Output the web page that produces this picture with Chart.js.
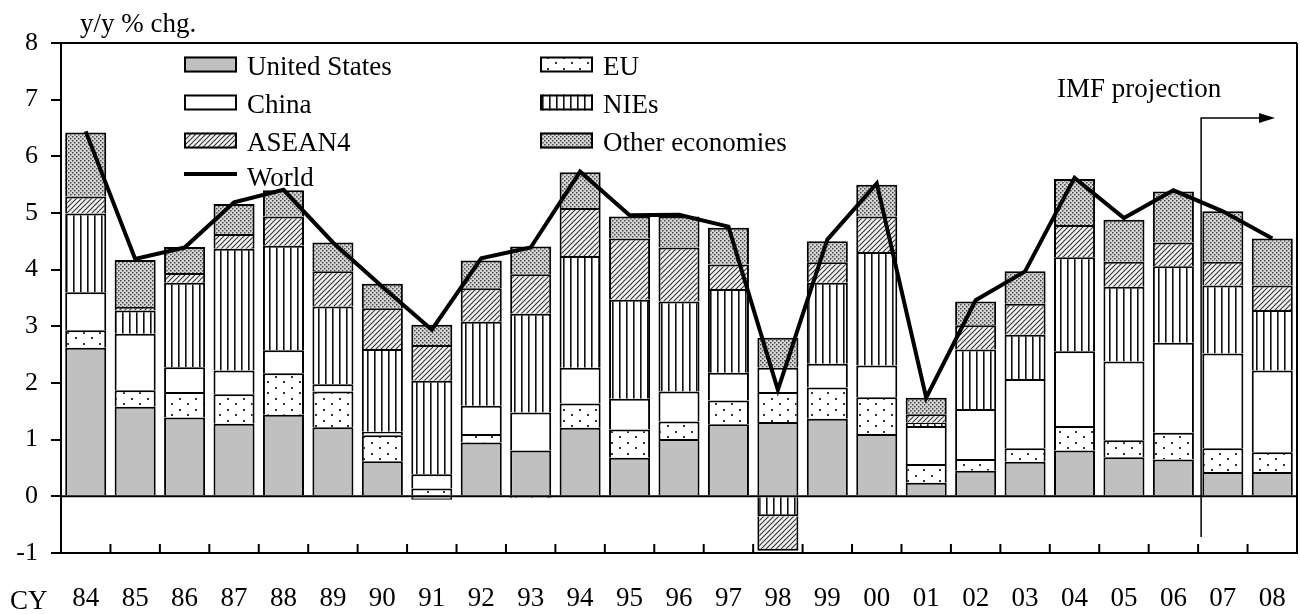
<!DOCTYPE html>
<html lang="en">
  <head>
    <meta charset="UTF-8" />
    <title>World growth contributions</title>
    <script src="https://cdn.jsdelivr.net/npm/chart.js@4.4.1/dist/chart.umd.min.js"></script>
    <style>
      body { margin: 0; background: #fff; }
    </style>
  </head>
  <body>
    <canvas id="myChart" width="1300" height="614"></canvas>
    <script>
      // years (CY)
      const years = ["84", "85", "86", "87", "88", "89", "90", "91", "92", "93", "94", "95", "96",
        "97", "98", "99", "00", "01", "02", "03", "04", "05", "06", "07", "08"];

      // contributions, % points
      const us = [2.62, 1.58, 1.39, 1.28, 1.44, 1.22, 0.62, -0.06, 0.95, 0.81, 1.21, 0.68, 1.01,
        1.27, 1.31, 1.37, 1.10, 0.24, 0.45, 0.61, 0.81, 0.69, 0.65, 0.43, 0.43];
      const eu = [0.31, 0.29, 0.45, 0.52, 0.73, 0.63, 0.46, 0.14, 0.15, -0.03, 0.43, 0.50, 0.31,
        0.42, 0.53, 0.55, 0.65, 0.33, 0.21, 0.24, 0.43, 0.30, 0.47, 0.42, 0.35];
      const china = [0.67, 1.00, 0.44, 0.42, 0.41, 0.13, 0.06, 0.25, 0.50, 0.67, 0.63, 0.54, 0.53,
        0.49, 0.43, 0.42, 0.56, 0.67, 0.88, 1.22, 1.32, 1.39, 1.59, 1.67, 1.44];
      const nies = [1.39, 0.41, 1.49, 2.15, 1.84, 1.37, 1.46, 1.65, 1.48, 1.74, 1.97, 1.75, 1.59,
        1.48, -0.35, 1.43, 2.00, 0.06, 1.05, 0.78, 1.66, 1.32, 1.35, 1.20, 1.07];
      const asean4 = [0.30, 0.06, 0.17, 0.26, 0.52, 0.62, 0.72, 0.63, 0.59, 0.70, 0.85, 1.08, 0.95,
        0.43, -0.61, 0.36, 0.63, 0.15, 0.43, 0.55, 0.57, 0.44, 0.42, 0.42, 0.43];
      const others = [1.13, 0.83, 0.46, 0.53, 0.46, 0.51, 0.43, 0.36, 0.49, 0.49, 0.63, 0.39, 0.55,
        0.65, 0.53, 0.37, 0.56, 0.29, 0.42, 0.57, 0.81, 0.74, 0.90, 0.89, 0.83];
      const world = [6.44, 4.19, 4.39, 5.19, 5.41, 4.48, 3.70, 2.94, 4.20, 4.39, 5.73, 4.96, 4.97,
        4.76, 1.88, 4.53, 5.52, 1.74, 3.46, 3.97, 5.62, 4.91, 5.40, 5.03, 4.55];

      const yTicks = [-1, 0, 1, 2, 3, 4, 5, 6, 7, 8];
      const FONT = "Liberation Serif";
      Chart.defaults.font.family = FONT;
      Chart.defaults.color = "#000";

      const ctx = document.getElementById("myChart").getContext("2d");

      // small tiles for the fill patterns
      function f_pattern(w, h, bg, draw) {
        const c = document.createElement("canvas");
        c.width = w;
        c.height = h;
        const g = c.getContext("2d");
        g.fillStyle = bg;
        g.fillRect(0, 0, w, h);
        draw(g);
        return ctx.createPattern(c, "repeat");
      }

      const pUS = "#c0c0c0";
      const pEU = f_pattern(16, 11, "#fff", (g) => {
        g.fillStyle = "#333";
        g.fillRect(3, 2, 2, 2);
        g.fillRect(11, 7, 2, 2);
      });
      const pChina = "#fff";
      const pNIEs = f_pattern(7, 4, "#fff", (g) => {
        g.fillStyle = "#111";
        g.fillRect(3, 0, 1.6, 4);
      });
      const pASEAN = f_pattern(5, 5, "#f4f4f4", (g) => {
        g.strokeStyle = "#333";
        g.lineWidth = 1.1;
        g.beginPath();
        g.moveTo(-1, 6); g.lineTo(6, -1);
        g.moveTo(-1, 1); g.lineTo(1, -1);
        g.moveTo(4, 6); g.lineTo(6, 4);
        g.stroke();
      });
      const pOther = f_pattern(4, 4, "#d4d4d4", (g) => {
        g.fillStyle = "#4a4a4a";
        g.fillRect(0, 0, 1.5, 1.5);
        g.fillRect(2, 2, 1.5, 1.5);
      });

      function f_bar(label, data, fill) {
        return {
          type: "bar",
          label: label,
          data: data,
          backgroundColor: fill,
          borderColor: "#000",
          borderWidth: 2,
          order: 1,
        };
      }

      const legendRows = [
        { label: "United States", fill: pUS, col: 0, row: 0 },
        { label: "EU", fill: pEU, col: 1, row: 0 },
        { label: "China", fill: pChina, col: 0, row: 1 },
        { label: "NIEs", fill: pNIEs, col: 1, row: 1 },
        { label: "ASEAN4", fill: pASEAN, col: 0, row: 2 },
        { label: "Other economies", fill: pOther, col: 1, row: 2 },
      ];

      // frame, legend, notes
      const extras = {
        id: "extras",
        afterDatasetsDraw(chart) {
          const c = chart.ctx;
          const a = chart.chartArea;
          const x = chart.scales.x;
          const y = chart.scales.y;
          c.save();
          c.strokeStyle = "#000";
          c.lineWidth = 2;
          const y0 = y.getPixelForValue(0);
          c.beginPath();
          c.moveTo(a.left, y0); c.lineTo(a.right, y0);
          c.moveTo(a.left - 10, a.top); c.lineTo(a.right, a.top);
          c.moveTo(a.right, a.top); c.lineTo(a.right, a.bottom + 1);
          for (let i = 0; i < years.length - 1; i++) {
            const px = (x.getPixelForValue(i) + x.getPixelForValue(i + 1)) / 2;
            c.moveTo(px, a.bottom); c.lineTo(px, a.bottom - 9);
          }
          c.stroke();
          c.restore();
        },
        afterDraw(chart) {
          const c = chart.ctx;
          const x = chart.scales.x;
          c.save();
          c.fillStyle = "#000";
          c.font = "27px '" + FONT + "'";
          c.textBaseline = "alphabetic";
          c.fillText("y/y % chg.", 80, 32);
          c.fillText("CY", 10, 609);

          // legend
          const colX = [184, 540];
          const rowY = [64.5, 102.5, 140.5];
          legendRows.forEach((r) => {
            const bx = colX[r.col];
            const by = rowY[r.row] - 8;
            c.fillStyle = r.fill;
            c.fillRect(bx, by, 53, 16);
            c.strokeStyle = "#000";
            c.lineWidth = 2;
            c.strokeRect(bx + 1, by + 1, 51, 14);
            c.fillStyle = "#000";
            c.fillText(r.label, bx + 63, rowY[r.row] + 10.5);
          });
          c.lineWidth = 4;
          c.beginPath();
          c.moveTo(184, 174); c.lineTo(237, 174);
          c.stroke();
          c.fillText("World", 247, 186);

          // projection marker
          c.fillText("IMF projection", 1057, 97);
          const vx = (x.getPixelForValue(22) + x.getPixelForValue(23)) / 2 + 3;
          c.lineWidth = 1.5;
          c.beginPath();
          c.moveTo(vx, 537); c.lineTo(vx, 118); c.lineTo(1261, 118);
          c.stroke();
          c.beginPath();
          c.moveTo(1259, 113); c.lineTo(1275, 118); c.lineTo(1259, 123);
          c.closePath();
          c.fill();
          c.restore();
        },
      };

      const myChart = new Chart(ctx, {
        data: {
          labels: years,
          datasets: [
            f_bar("United States", us, pUS),
            f_bar("EU", eu, pEU),
            f_bar("China", china, pChina),
            f_bar("NIEs", nies, pNIEs),
            f_bar("ASEAN4", asean4, pASEAN),
            f_bar("Other economies", others, pOther),
            {
              type: "line",
              label: "World",
              data: world,
              stack: "world",
              borderColor: "#000",
              borderWidth: 4,
              pointRadius: 0,
              fill: false,
              tension: 0,
              order: 0,
            },
          ],
        },
        options: {
          responsive: false,
          animation: false,
          events: [],
          devicePixelRatio: 1,
          layout: { padding: { left: 0, top: 43, right: 3, bottom: 0 } },
          datasets: {
            bar: { categoryPercentage: 1, barPercentage: 0.83 },
          },
          plugins: {
            legend: { display: false },
            tooltip: { enabled: false },
          },
          scales: {
            x: {
              stacked: true,
              // invisible tick marks only push the labels down
              grid: { drawOnChartArea: false, drawTicks: true, tickLength: 30, color: "rgba(0,0,0,0)" },
              border: { display: true, color: "#000", width: 2 },
              ticks: { font: { size: 27 }, padding: 0, maxRotation: 0, autoSkip: false },
              afterFit(s) { s.height = 61; },
            },
            y: {
              stacked: true,
              min: -1,
              max: 8,
              afterBuildTicks(s) { s.ticks = yTicks.map((v) => ({ value: v })); },
              grid: { drawOnChartArea: false, drawTicks: true, tickLength: 10, color: "#000", lineWidth: 2 },
              border: { display: true, color: "#000", width: 2 },
              ticks: { font: { size: 26 }, padding: 13 },
              afterFit(s) { s.width = 61; },
            },
          },
        },
        plugins: [extras],
      });
    </script>
  </body>
</html>
